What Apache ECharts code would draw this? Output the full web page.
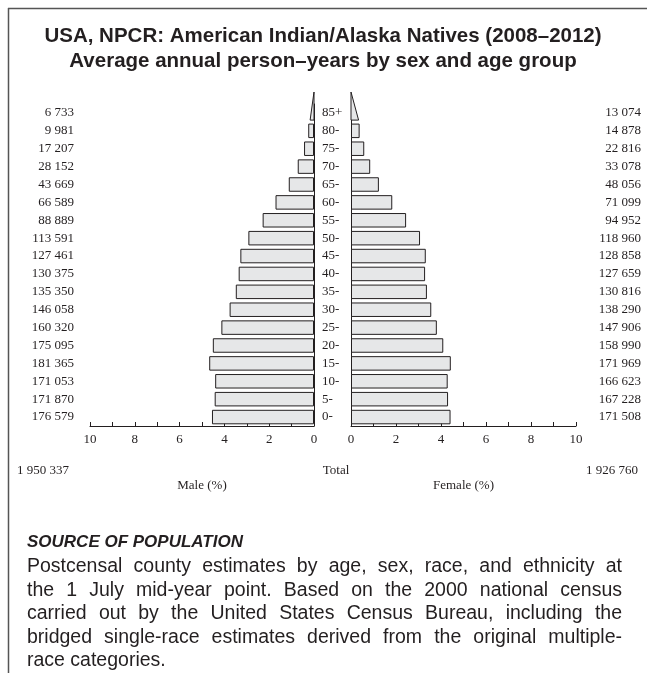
<!DOCTYPE html>
<html>
<head>
<meta charset="utf-8">
<title>USA, NPCR: American Indian/Alaska Natives (2008–2012)</title>
<script src="https://cdn.jsdelivr.net/npm/echarts@6/dist/echarts.min.js"></script>
<style>
  html, body { margin: 0; padding: 0; background: #fff; }
  #main { width: 647px; height: 673px; }
</style>
</head>
<body>
<div id="main"></div>
<script>
// age groups, youngest first (bottom of the pyramid)
const ageGroups = ['0-', '5-', '10-', '15-', '20-', '25-', '30-', '35-', '40-',
  '45-', '50-', '55-', '60-', '65-', '70-', '75-', '80-', '85+']
const maleCounts = [176579, 171870, 171053, 181365, 175095, 160320, 146058, 135350, 130375,
  127461, 113591, 88889, 66589, 43669, 28152, 17207, 9981, 6733]
const femaleCounts = [171508, 167228, 166623, 171969, 158990, 147906, 138290, 130816, 127659,
  128858, 118960, 94952, 71099, 48056, 33078, 22816, 14878, 13074]

const titleLines = [
  'USA, NPCR: American Indian/Alaska Natives (2008–2012)',
  'Average annual person–years by sex and age group'
]
const sourceTitle = 'SOURCE OF POPULATION'
const sourceLines = [
  'Postcensal county estimates by age, sex, race, and ethnicity at',
  'the 1 July mid-year point. Based on the 2000 national census',
  'carried out by the United States Census Bureau, including the',
  'bridged single-race estimates derived from the original multiple-',
  'race categories.'
]

const sum = arr => arr.reduce((a, b) => a + b, 0)
const maleTotal = sum(maleCounts)
const femaleTotal = sum(femaleCounts)
const grandTotal = maleTotal + femaleTotal
const fmt = n => String(n).replace(/\B(?=(\d{3})+(?!\d))/g, ' ')

// percentage of all person-years; the open 85+ group is drawn as a wedge
const last = ageGroups.length - 1
const malePct = maleCounts.map((v, i) => (i === last ? '-' : (v / grandTotal) * 100))
const femalePct = femaleCounts.map((v, i) => (i === last ? '-' : (v / grandTotal) * 100))

const serif = '"Liberation Serif", "Times New Roman", serif'
const sans = '"Liberation Sans", Arial, Helvetica, sans-serif'
const ink = '#231f20'
const barFill = '#e6e7e8'

const chartDom = document.getElementById('main')
const myChart = echarts.init(chartDom)

// justified paragraph, word by word
const measure = document.createElement('canvas').getContext('2d')
const bodyFont = '19.5px ' + sans
measure.font = bodyFont
const textLeft = 27
const textRight = 622
const sourceTop = 567
const lineStep = 23.5
const sourceGraphics = []
sourceLines.forEach((line, li) => {
  const words = line.split(' ')
  const widths = words.map(w => measure.measureText(w).width)
  const justify = li < sourceLines.length - 1
  const gap = justify
    ? (textRight - textLeft - sum(widths)) / (words.length - 1)
    : measure.measureText(' ').width
  let x = textLeft
  words.forEach((w, wi) => {
    sourceGraphics.push({
      type: 'text',
      x: x,
      y: sourceTop + li * lineStep,
      style: { text: w, font: bodyFont, fill: ink, textVerticalAlign: 'middle' }
    })
    x += widths[wi] + gap
  })
})

// 85+ wedge, from the axis line up above the top band
function wedge(params, api) {
  const cat = api.value(1)
  const end = api.coord([api.value(0), cat])
  const zero = api.coord([0, cat])
  const band = api.size([0, 1])[1]
  const yBottom = end[1] + band * 0.4
  const yTop = end[1] - band * 1.17
  return {
    type: 'polygon',
    shape: { points: [[zero[0], yTop], [end[0], yBottom], [zero[0], yBottom]] },
    style: { fill: barFill, stroke: ink, lineWidth: 1 }
  }
}

const tickLabel = { color: ink, fontFamily: serif, fontSize: 13, margin: 7 }
const xAxisBase = {
  type: 'value',
  min: 0,
  max: 10,
  interval: 2,
  axisLine: { show: true, lineStyle: { color: ink, width: 1 } },
  axisTick: { show: true, inside: true, length: 4, lineStyle: { color: ink } },
  minorTick: { show: true, splitNumber: 2, length: 4, lineStyle: { color: ink } },
  splitLine: { show: false },
  axisLabel: tickLabel,
  nameLocation: 'middle',
  nameGap: 53,
  nameTextStyle: { color: ink, fontFamily: serif, fontSize: 13 }
}

const option = {
  animation: false,
  backgroundColor: '#fff',
  textStyle: { fontFamily: serif },
  grid: [
    { left: 90, top: 104, width: 224, height: 322 },
    { left: 351, top: 104, width: 225, height: 322 }
  ],
  xAxis: [
    Object.assign({}, xAxisBase, { gridIndex: 0, inverse: true, name: 'Male (%)' }),
    Object.assign({}, xAxisBase, { gridIndex: 1, name: 'Female (%)' })
  ],
  yAxis: [
    {
      // male side: axis line at the centre
      type: 'category',
      gridIndex: 0,
      position: 'right',
      data: ageGroups,
      axisLine: { show: true, lineStyle: { color: ink } },
      axisTick: { show: false },
      axisLabel: { show: false }
    },
    {
      // male counts on the far left
      type: 'category',
      gridIndex: 0,
      position: 'left',
      data: maleCounts.map(fmt),
      axisLine: { show: false },
      axisTick: { show: false },
      axisLabel: { color: ink, fontFamily: serif, fontSize: 13, margin: 16 }
    },
    {
      // female side: axis line at the centre, age labels in the gap
      type: 'category',
      gridIndex: 1,
      position: 'left',
      data: ageGroups,
      axisLine: { show: true, lineStyle: { color: ink } },
      axisTick: { show: false },
      axisLabel: { color: ink, fontFamily: serif, fontSize: 13, align: 'left', margin: 29 }
    },
    {
      // female counts on the far right
      type: 'category',
      gridIndex: 1,
      position: 'right',
      data: femaleCounts.map(fmt),
      axisLine: { show: false },
      axisTick: { show: false },
      axisLabel: { color: ink, fontFamily: serif, fontSize: 13, align: 'right', margin: 65 }
    }
  ],
  series: [
    {
      name: 'Male',
      type: 'bar',
      xAxisIndex: 0,
      yAxisIndex: 0,
      data: malePct,
      barCategoryGap: '19%',
      itemStyle: { color: barFill, borderColor: ink, borderWidth: 1 }
    },
    {
      name: 'Female',
      type: 'bar',
      xAxisIndex: 1,
      yAxisIndex: 2,
      data: femalePct,
      barCategoryGap: '19%',
      itemStyle: { color: barFill, borderColor: ink, borderWidth: 1 }
    },
    {
      name: 'Male 85+',
      type: 'custom',
      xAxisIndex: 0,
      yAxisIndex: 0,
      clip: false,
      renderItem: wedge,
      encode: { x: 0, y: 1 },
      data: [[(maleCounts[last] / grandTotal) * 100, last]]
    },
    {
      name: 'Female 85+',
      type: 'custom',
      xAxisIndex: 1,
      yAxisIndex: 2,
      clip: false,
      renderItem: wedge,
      encode: { x: 0, y: 1 },
      data: [[(femaleCounts[last] / grandTotal) * 100, last]]
    }
  ],
  graphic: [
    // page frame (top and left edge)
    { type: 'line', shape: { x1: 8, y1: 8.5, x2: 647, y2: 8.5 }, style: { stroke: '#555', lineWidth: 1.5 } },
    { type: 'line', shape: { x1: 8.5, y1: 8, x2: 8.5, y2: 673 }, style: { stroke: '#555', lineWidth: 1.5 } },
    {
      type: 'text', x: 323, y: 36,
      style: { text: titleLines[0], font: 'bold 20.5px ' + sans, fill: ink, textAlign: 'center', textVerticalAlign: 'middle' }
    },
    {
      type: 'text', x: 323, y: 61,
      style: { text: titleLines[1], font: 'bold 20.5px ' + sans, fill: ink, textAlign: 'center', textVerticalAlign: 'middle' }
    },
    {
      type: 'text', x: 17, y: 471,
      style: { text: fmt(maleTotal), font: '13px ' + serif, fill: ink, textAlign: 'left', textVerticalAlign: 'middle' }
    },
    {
      type: 'text', x: 336, y: 471,
      style: { text: 'Total', font: '13px ' + serif, fill: ink, textAlign: 'center', textVerticalAlign: 'middle' }
    },
    {
      type: 'text', x: 638, y: 471,
      style: { text: fmt(femaleTotal), font: '13px ' + serif, fill: ink, textAlign: 'right', textVerticalAlign: 'middle' }
    },
    {
      type: 'text', x: textLeft, y: sourceTop - 25,
      style: { text: sourceTitle, font: 'italic bold 17px ' + sans, fill: ink, textVerticalAlign: 'middle' }
    }
  ].concat(sourceGraphics)
}

option && myChart.setOption(option)
</script>
</body>
</html>
